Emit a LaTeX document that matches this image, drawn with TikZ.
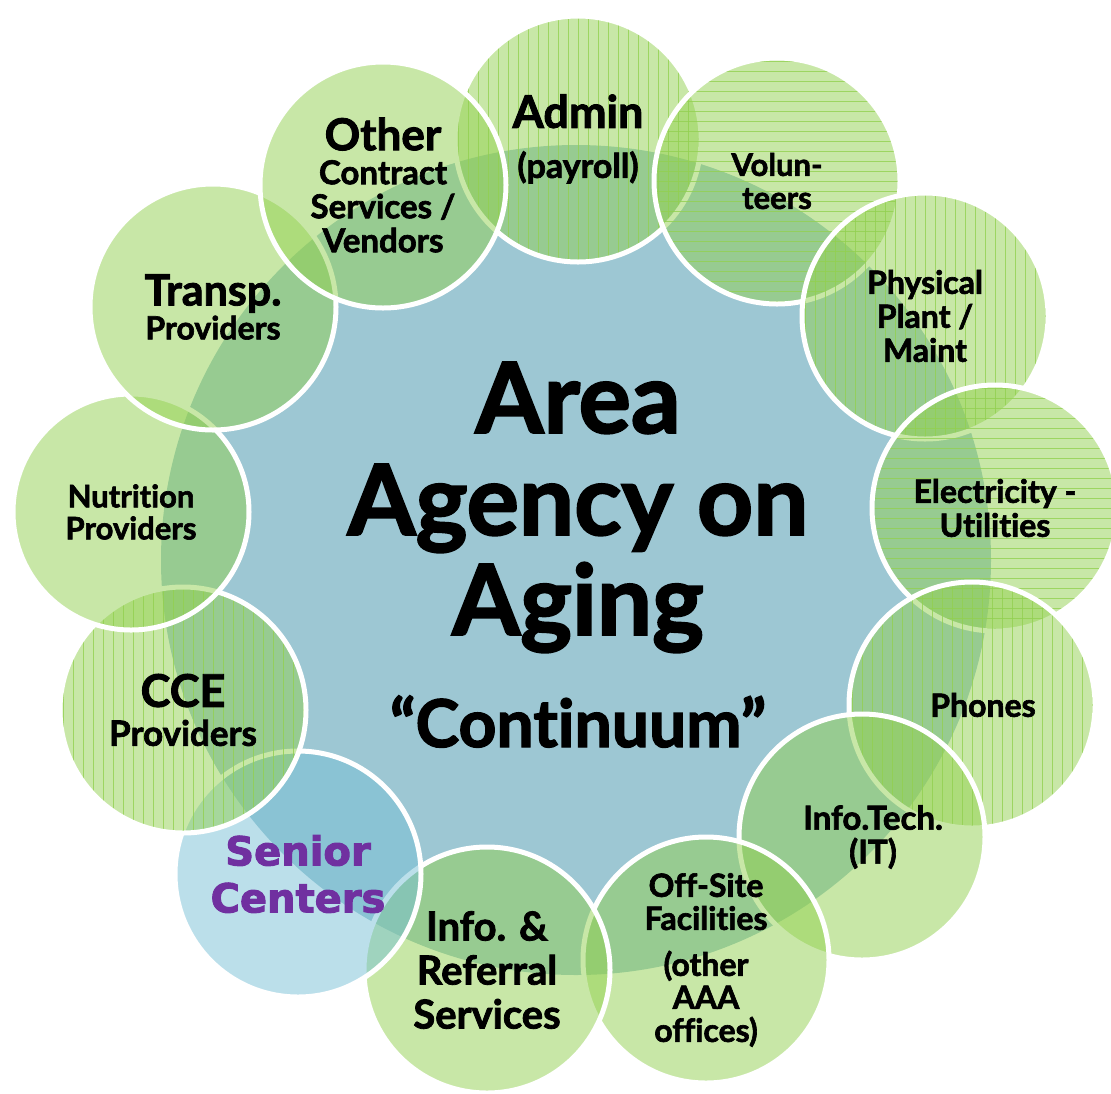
\documentclass[tikz,border=0pt]{standalone}
\usepackage{fontspec}
\setmainfont{Lato}[Ligatures=NoCommon, BoldFeatures={FakeBold=2}]
\newfontfamily\seniorfont{DejaVu Sans}[BoldFeatures={FakeBold=2.5}]
\usetikzlibrary{positioning}

\definecolor{aaablue}{RGB}{157,199,211}
\definecolor{leafgreen}{RGB}{146,208,80}
\definecolor{skyblue}{RGB}{120,192,214}
\definecolor{seniorpurple}{RGB}{112,48,160}

\tikzset{
  partner/.style={circle, draw=white, line width=5pt, fill=leafgreen,
    fill opacity=0.5, draw opacity=1, text opacity=1, minimum size=246pt,
    inner sep=0pt, align=center},
  fs/.style 2 args={font=\bfseries\fontsize{#1}{#2}\selectfont},
  vstripes/.style={path picture={
    \foreach \k in {-13,...,13}
      \draw[leafgreen, line width=1pt, draw opacity=0.8]
        ([xshift=\k*10pt]path picture bounding box.north) --
        ([xshift=\k*10pt]path picture bounding box.south);}},
  hstripes/.style={path picture={
    \foreach \k in {-13,...,13}
      \draw[leafgreen, line width=1pt, draw opacity=0.8]
        ([yshift=\k*10pt]path picture bounding box.west) --
        ([yshift=\k*10pt]path picture bounding box.east);}},
  title/.style={anchor=base, fs={98}{98}}
}

\newcommand{\sz}[1]{\fontsize{#1}{#1}\selectfont}

\begin{document}
\begin{tikzpicture}[x=1pt, y=-1pt]
\useasboundingbox (0,0) rectangle (1111,1093);

% the agency in the middle
\node[circle, fill=aaablue, minimum size=830pt, inner sep=0pt] (aaa) at (576,560) {};

% partners, clockwise from the top
\node[partner, vstripes, fs={34}{50}] (admin) at (578,139)
  {{\sz{45}Admin}\\(payroll)};
\node[partner, hstripes, fs={31}{33}] (vol) at (777,181)
  {Volun-\\teers};
\node[partner, vstripes, fs={32}{34}] (plant) at (925,316)
  {Physical\\Plant /\\Maint};
\node[partner, hstripes, fs={32}{34}] (elec) at (995,508)
  {Electricity -\\Utilities};
\node[partner, vstripes, fs={32}{34}] (phones) at (972,705)
  {\hspace*{22pt}Phones};
\node[partner, fs={33}{34}] (it) at (862,837)
  {\hspace*{22pt}Info.Tech.\\\hspace*{22pt}(IT)};
\node[partner, fs={32}{33}] (offsite) at (706,960)
  {Off-Site\\Facilities\\[13pt](other\\AAA\\offices)};
\node[partner, fs={40}{44}] (inforef) at (487,970)
  {Info. \&\\Referral\\Services};
\node[partner, fill=skyblue, text=seniorpurple,
  font=\seniorfont\bfseries\fontsize{40}{47}\selectfont] (senior) at (298,874)
  {Senior\\Centers};
\node[partner, vstripes, fs={35}{39}] (cce) at (183,710)
  {{\sz{45}CCE}\\Providers};
\node[partner, minimum size=236pt, fs={31}{32}] (nutr) at (131,512)
  {Nutrition\\Providers};
\node[partner, fs={32}{34}] (transp) at (213,307)
  {{\sz{43}Transp.}\\Providers};
\node[partner, fs={33}{34}] (other) at (383,185)
  {{\sz{44}Other}\\Contract\\Services /\\Vendors};

% title
\node[title] (area) at (578,433) {Area};
\node[title] (agency) at (578,535) {Agency on};
\node[title] (aging) at (578,635) {Aging};
\node[title, fs={66}{66}] (cont) at (578,747) {``Continuum''};
\end{tikzpicture}
\end{document}
